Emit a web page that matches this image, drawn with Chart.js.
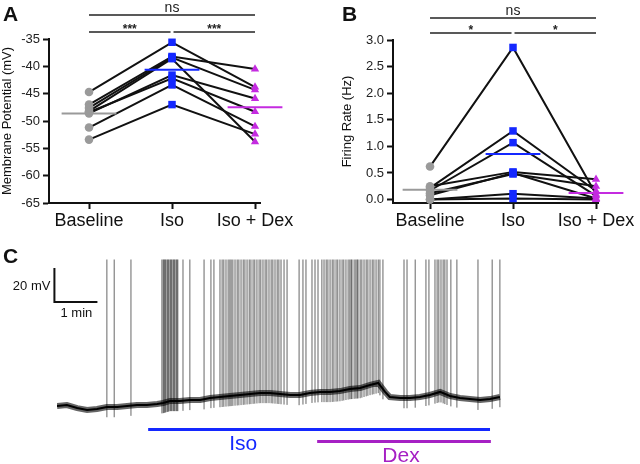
<!DOCTYPE html>
<html>
<head>
<meta charset="utf-8">
<script src="https://cdn.jsdelivr.net/npm/chart.js@4.4.0/dist/chart.umd.min.js"></script>
<style>
  body { margin: 0; background: #fff; }
  #wrap { position: relative; width: 640px; height: 464px; overflow: hidden; font-family: 'Liberation Sans', Arial, sans-serif; }
  canvas { position: absolute; }
  .lbl { position: absolute; font-weight: bold; font-size: 21px; color: #111; line-height: 1; }
</style>
</head>
<body>
<div id="wrap">
  <canvas id="chartA" width="320" height="240" style="left:0;top:0"></canvas>
  <canvas id="chartB" width="320" height="240" style="left:320px;top:0"></canvas>
  <canvas id="chartC" width="640" height="224" style="left:0;top:240px"></canvas>
  <div class="lbl" style="left:3px;top:3px">A</div>
  <div class="lbl" style="left:342px;top:3px">B</div>
  <div class="lbl" style="left:3px;top:245px">C</div>
</div>
<script>
// ---- data ----
var groups = ["Baseline", "Iso", "Iso + Dex"];

// A: membrane potential (mV), one entry per cell
var vmBaseline = [-44.7, -47.0, -47.6, -48.2, -48.6, -48.4, -51.2, -53.4];
var vmIso      = [-35.6, -38.2, -38.4, -38.6, -41.6, -42.2, -43.4, -47.0];
var vmDex      = [-43.8, -40.5, -44.3, -53.8, -45.9, -48.3, -51.0, -52.4];

// B: firing rate (Hz)
var frBaseline = [0.62, 0.22, 0.17, 0.25, 0.12, 0.08, 0.0, 0.0];
var frIso      = [2.86, 1.29, 1.07, 0.52, 0.48, 0.50, 0.11, 0.02];
var frDex      = [0.10, 0.16, 0.07, 0.38, 0.25, 0.02, 0.02, 0.0];

// significance brackets (group index from/to, stacking level)
var sigFrom = [0, 0, 1];
var sigTo = [2, 1, 2];
var sigLevel = [2, 1, 1];
var sigA = ["ns", "***", "***"];
var sigB = ["ns", "*", "*"];

// C: recording trace, time in min, resting level in mV
var traceTime = [0.00, 0.23, 0.47, 0.70, 0.93, 1.16, 1.40, 1.63, 1.86, 2.09, 2.33, 2.47, 2.63, 2.86,
  3.09, 3.33, 3.56, 3.79, 4.02, 4.26, 4.49, 4.72, 4.95, 5.19, 5.42, 5.65, 5.88, 6.12, 6.35, 6.58,
  6.81, 7.05, 7.28, 7.47, 7.63, 7.74, 7.98, 8.21, 8.44, 8.67, 8.91, 9.14, 9.37, 9.60, 9.84, 10.07, 10.30];
var traceMv = [-61.2, -60.6, -62.4, -63.5, -62.9, -61.8, -61.8, -61.2, -60.6, -60.6, -60.0, -59.4, -58.2, -58.2,
  -57.6, -57.6, -56.5, -55.9, -55.3, -54.7, -54.1, -53.5, -53.5, -54.1, -54.7, -54.7, -53.5, -52.9, -52.9, -52.4,
  -51.2, -50.6, -48.8, -47.6, -52.9, -55.9, -56.5, -56.5, -55.9, -54.7, -52.9, -55.3, -56.5, -57.1, -57.6, -57.1, -55.9];
var spikeTimes = [1.16, 1.33, 1.72,
  2.44, 2.47, 2.49, 2.51, 2.53, 2.56, 2.58, 2.60, 2.63, 2.65, 2.67, 2.70, 2.72, 2.74, 2.77, 2.79,
  2.81, 2.93, 3.09, 3.42, 3.58, 3.65, 3.79, 3.84, 3.88, 3.93, 3.98, 4.02, 4.05, 4.09, 4.14, 4.19,
  4.23, 4.28, 4.33, 4.37, 4.42, 4.47, 4.51, 4.56, 4.60, 4.65, 4.70, 4.74, 4.79, 4.84, 4.88, 4.93,
  4.98, 5.02, 5.07, 5.12, 5.16, 5.21, 5.28, 5.35,
  5.63, 5.72, 5.79, 5.93, 6.00, 6.07, 6.16, 6.21, 6.26, 6.30, 6.35, 6.40, 6.44, 6.49, 6.53, 6.58,
  6.63, 6.67, 6.72, 6.77, 6.81, 6.84, 6.86, 6.91, 6.95, 6.98, 7.00, 7.05, 7.09, 7.14, 7.19, 7.23,
  7.28, 7.33, 7.37, 7.42, 7.47, 7.51, 7.58,
  8.07, 8.14, 8.33, 8.58, 8.65, 8.79, 8.84, 8.88, 8.93, 8.98, 9.02, 9.07, 9.16, 9.30, 9.79, 10.12, 10.30];
var spikePeak = 25;

var drugs = ["Iso", "Dex"];
var drugStart = [2.12, 6.05];
var drugEnd = [10.07, 10.09];
var drugLabelAt = [4.33, 8.0];

// ---- styling ----
var FONT = "'Liberation Sans', Arial, sans-serif";
Chart.defaults.font.family = FONT;
Chart.defaults.color = "#1a1a1a";
var GRAY = "#9a9a9a", BLUE = "#1428ff", MAG = "#c42be0", PURPLE = "#a620c4", INK = "#111";

function mean(a) {
    var s = 0;
    a.forEach(function (v) { s += v; });
    return s / a.length;
}

function noPad(s) {
    s.paddingTop = 0; s.paddingBottom = 0; s.paddingLeft = 0; s.paddingRight = 0;
}

function sigPlugin(labels, gapHi, gapLo) {
    return {
        id: "sig",
        afterDraw: function (chart) {
            var ctx = chart.ctx, x = chart.scales.x, top = chart.chartArea.top;
            ctx.save();
            ctx.strokeStyle = "#222";
            ctx.lineWidth = 1.5;
            ctx.fillStyle = "#222";
            ctx.textAlign = "center";
            for (var i = 0; i < labels.length; i++) {
                var x1 = x.getPixelForValue(sigFrom[i]);
                var x2 = x.getPixelForValue(sigTo[i]);
                if (sigLevel[i] === 1) {
                    if (sigTo[i] === 1) x2 -= 1.5;
                    if (sigFrom[i] === 1) x1 += 1.5;
                }
                var y = top - (sigLevel[i] === 2 ? gapHi : gapLo);
                ctx.beginPath();
                ctx.moveTo(x1, y);
                ctx.lineTo(x2, y);
                ctx.stroke();
                ctx.textBaseline = "alphabetic";
                if (labels[i] === "ns") {
                    ctx.font = "14px " + FONT;
                    ctx.fillText(labels[i], (x1 + x2) / 2, y - 3);
                } else {
                    ctx.font = "bold 12px " + FONT;
                    ctx.fillText(labels[i], (x1 + x2) / 2, y + 1);
                }
            }
            ctx.restore();
        }
    };
}

function pairedChart(id, base, iso, dex, opt) {
    var sets = [
        { data: base.map(function (v) { return { x: 0, y: v }; }), pointStyle: "circle", pointRadius: 4.3,
          backgroundColor: GRAY, borderColor: GRAY, borderWidth: 0, order: 0, clip: false },
        { data: iso.map(function (v) { return { x: 1, y: v }; }), pointStyle: "rect", pointRadius: 5.3,
          backgroundColor: BLUE, borderColor: BLUE, borderWidth: 0, order: 0, clip: false },
        { data: dex.map(function (v) { return { x: 2, y: v }; }), pointStyle: "triangle", pointRadius: 4.8,
          backgroundColor: MAG, borderColor: MAG, borderWidth: 0, order: 0, clip: false }
    ];
    [base, iso, dex].forEach(function (arr, g) {
        var m = mean(arr);
        sets.push({ data: [{ x: g - 0.33, y: m }, { x: g + 0.33, y: m }], showLine: true, pointRadius: 0,
            borderColor: [GRAY, BLUE, MAG][g], borderWidth: 2, order: 1, clip: false });
    });
    for (var i = 0; i < base.length; i++) {
        sets.push({ data: [{ x: 0, y: base[i] }, { x: 1, y: iso[i] }, { x: 2, y: dex[i] }], showLine: true,
            pointRadius: 0, borderColor: INK, borderWidth: 2, order: 2, clip: false });
    }
    return new Chart(document.getElementById(id), {
        type: "scatter",
        data: { datasets: sets },
        options: {
            responsive: false,
            animation: false,
            devicePixelRatio: 1,
            layout: { padding: opt.padding },
            plugins: { legend: { display: false }, tooltip: { enabled: false } },
            scales: {
                x: {
                    type: "linear", min: opt.xMin, max: opt.xMax,
                    afterBuildTicks: function (s) { s.ticks = [{ value: 0 }, { value: 1 }, { value: 2 }]; },
                    ticks: { callback: function (v) { return groups[v]; }, font: { size: 18 }, color: INK,
                             padding: 1, autoSkip: false, maxRotation: 0 },
                    grid: { drawOnChartArea: false, tickLength: 6, tickWidth: 2, tickColor: INK },
                    border: { color: INK, width: 2 },
                    afterFit: function (s) { s.height = 37; noPad(s); }
                },
                y: {
                    min: opt.yMin, max: opt.yMax,
                    afterBuildTicks: function (s) {
                        s.ticks = opt.yTicks.map(function (v) { return { value: v }; });
                    },
                    ticks: { callback: opt.yFmt, font: { size: 13 }, color: "#222", padding: 3 },
                    grid: { drawOnChartArea: false, tickLength: 6, tickWidth: 2, tickColor: INK },
                    border: { color: INK, width: 2 },
                    title: { display: true, text: opt.yTitle, font: { size: 13 }, color: INK, padding: 0 },
                    afterFit: function (s) { s.width = opt.yWidth; noPad(s); }
                }
            }
        },
        plugins: [sigPlugin(opt.sig, opt.gapHi, opt.gapLo)]
    });
}

pairedChart("chartA", vmBaseline, vmIso, vmDex, {
    padding: { left: 0, top: 39, right: 60, bottom: 0 },
    xMin: -0.482, xMax: 2.06,
    yMin: -65, yMax: -35, yTicks: [-65, -60, -55, -50, -45, -40, -35],
    yFmt: function (v) { return String(v); },
    yTitle: "Membrane Potential (mV)", yWidth: 49,
    sig: sigA, gapHi: 24, gapLo: 7
});

pairedChart("chartB", frBaseline, frIso, frDex, {
    padding: { left: 20, top: 40, right: 42, bottom: 0 },
    xMin: -0.446, xMax: 2.024,
    yMin: -0.065, yMax: 3.0, yTicks: [0, 0.5, 1, 1.5, 2, 2.5, 3],
    yFmt: function (v) { return v.toFixed(1); },
    yTitle: "Firing Rate (Hz)", yWidth: 53,
    sig: sigB, gapHi: 22, gapLo: 7
});

// ---- C: trace ----
function baseAt(t) {
    for (var i = 1; i < traceTime.length; i++) {
        if (t <= traceTime[i]) {
            var f = (t - traceTime[i - 1]) / (traceTime[i] - traceTime[i - 1]);
            return traceMv[i - 1] + f * (traceMv[i] - traceMv[i - 1]);
        }
    }
    return traceMv[traceMv.length - 1];
}

var tracePts = traceTime.map(function (t, i) { return { x: t, y: traceMv[i] }; });
var spikePts = [];
spikeTimes.forEach(function (t) {
    var b = baseAt(t);
    spikePts.push({ x: t, y: b - 6 }, { x: t, y: spikePeak }, { x: t, y: null });
});

var extrasC = {
    id: "extrasC",
    afterDraw: function (chart) {
        var ctx = chart.ctx, x = chart.scales.x, y = chart.scales.y, bottom = chart.chartArea.bottom;
        ctx.save();
        // scale bar: 20 mV by 1 min
        var bx = x.getPixelForValue(-0.06), by = y.getPixelForValue(0);
        ctx.strokeStyle = INK;
        ctx.lineWidth = 2;
        ctx.beginPath();
        ctx.moveTo(bx, y.getPixelForValue(20));
        ctx.lineTo(bx, by);
        ctx.lineTo(x.getPixelForValue(0.94), by);
        ctx.stroke();
        ctx.fillStyle = INK;
        ctx.font = "13px " + FONT;
        ctx.textAlign = "right";
        ctx.textBaseline = "middle";
        ctx.fillText("20 mV", bx - 4, (by + y.getPixelForValue(20)) / 2 + 1);
        ctx.textAlign = "center";
        ctx.textBaseline = "top";
        ctx.fillText("1 min", x.getPixelForValue(0.45), by + 5);
        // drug application bars
        var cols = [BLUE, PURPLE];
        for (var i = 0; i < drugs.length; i++) {
            var yy = bottom + i * 12;
            ctx.strokeStyle = cols[i];
            ctx.lineWidth = 3;
            ctx.beginPath();
            ctx.moveTo(x.getPixelForValue(drugStart[i]), yy);
            ctx.lineTo(x.getPixelForValue(drugEnd[i]), yy);
            ctx.stroke();
            ctx.fillStyle = cols[i];
            ctx.font = "21px " + FONT;
            ctx.textAlign = "center";
            ctx.textBaseline = "middle";
            ctx.fillText(drugs[i], x.getPixelForValue(drugLabelAt[i]), yy + 15);
        }
        ctx.restore();
    }
};

new Chart(document.getElementById("chartC"), {
    type: "scatter",
    data: {
        datasets: [
            { data: spikePts, showLine: true, spanGaps: false, pointRadius: 0, borderWidth: 1,
              borderColor: "rgba(0,0,0,0.6)" },
            { data: tracePts, showLine: true, pointRadius: 0, borderWidth: 2, borderColor: "#000" },
            { data: tracePts, showLine: true, pointRadius: 0, borderWidth: 6, borderColor: "rgba(0,0,0,0.6)" }
        ]
    },
    options: {
        responsive: false,
        animation: false,
        devicePixelRatio: 1,
        layout: { padding: { left: 57, right: 131.5, top: 11, bottom: 34.5 } },
        plugins: { legend: { display: false }, tooltip: { enabled: false } },
        scales: {
            x: { type: "linear", display: false, min: 0, max: 10.5 },
            y: { display: false, min: -75, max: 30 }
        }
    },
    plugins: [extrasC]
});
</script>
</body>
</html>
